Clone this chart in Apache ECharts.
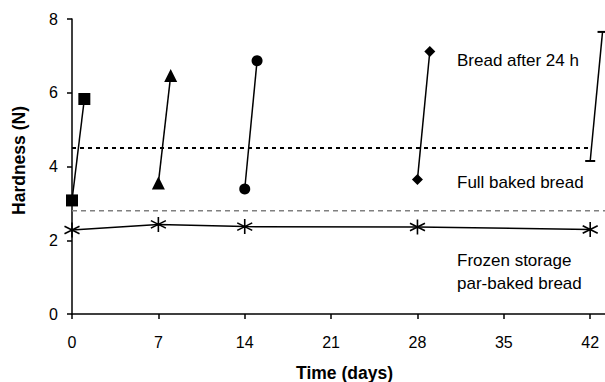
<!DOCTYPE html>
<html>
<head>
<meta charset="utf-8">
<script src="https://cdn.jsdelivr.net/npm/echarts@6/dist/echarts.min.js"></script>
<style>
  html, body { margin: 0; padding: 0; background: #fff; }
  #chart { width: 605px; height: 382px; }
</style>
</head>
<body>
<div id="chart"></div>
<script>
// storage days (par-baked bread taken out of the freezer)
var storageDays = [0, 7, 14, 28, 42];
// hardness of the full baked bread (day of baking) and after 24 h
var hardnessBaked = [3.08, 3.55, 3.39, 3.65, 4.15];
var hardnessAfter24h = [5.83, 6.47, 6.87, 7.12, 7.65];
// frozen storage par-baked bread
var hardnessFrozen = [2.28, 2.43, 2.37, 2.36, 2.29];
// reference levels
var refAfter24h = 4.5;
var refFullBaked = 2.8;
var xTicks = [0, 7, 14, 21, 28, 35, 42];

var pairSymbols = ['rect', 'triangle', 'circle', 'diamond', 'rect'];
var pairSizes = [12, 13, 11, 11, [10, 2]];
var asterisk = 'path://M0,-1L0,1M-0.87,-0.5L0.87,0.5M-0.87,0.5L0.87,-0.5';

var chart = echarts.init(document.getElementById('chart'), null, { renderer: 'svg' });

var series = [];
storageDays.forEach(function(d, i) {
  series.push({
    type: 'line',
    data: [[d, hardnessBaked[i]], [d + 1, hardnessAfter24h[i]]],
    symbol: pairSymbols[i],
    symbolSize: pairSizes[i],
    showAllSymbol: true,
    clip: false,
    lineStyle: { color: '#000', width: 1.5 },
    itemStyle: { color: '#000' },
    z: 5
  });
});

series.push({
  type: 'line',
  data: [[0, refAfter24h], [42, refAfter24h]],
  symbol: 'none',
  lineStyle: { color: '#000', width: 2, type: [4, 4] },
  z: 2
});
series.push({
  type: 'line',
  data: [[0, refFullBaked], [43.2, refFullBaked]],
  symbol: 'none',
  lineStyle: { color: '#808080', width: 1.5, type: [5, 4] },
  z: 2
});
series.push({
  type: 'line',
  data: storageDays.map(function(d, i) { return [d, hardnessFrozen[i]]; }),
  symbol: asterisk,
  symbolSize: 15,
  clip: false,
  lineStyle: { color: '#000', width: 1.5 },
  itemStyle: { color: 'none', borderColor: '#000', borderWidth: 1.6 },
  z: 4
});

var font = 'Liberation Sans, Arial, sans-serif';

chart.setOption({
  animation: false,
  grid: { left: 72, right: 0, top: 19, bottom: 68, outerBoundsMode: 'none', containLabel: false },
  xAxis: {
    type: 'value',
    min: 0,
    max: 43.2,
    name: 'Time (days)',
    nameLocation: 'middle',
    nameGap: 50,
    nameTextStyle: { color: '#000', fontSize: 17.5, fontWeight: 'bold', fontFamily: font, padding: [0, 0, 0, 12] },
    axisLine: { show: true, onZero: false, lineStyle: { color: '#000', width: 1.5 } },
    axisTick: { show: true, length: 5, customValues: xTicks, lineStyle: { color: '#000', width: 1.5 } },
    axisLabel: { customValues: xTicks, color: '#000', fontSize: 16, margin: 20, fontFamily: font },
    splitLine: { show: false }
  },
  yAxis: {
    type: 'value',
    min: 0,
    max: 8,
    interval: 2,
    name: 'Hardness (N)',
    nameLocation: 'middle',
    nameGap: 44,
    nameTextStyle: { color: '#000', fontSize: 17.5, fontWeight: 'bold', fontFamily: font, padding: [0, 0, 0, 12] },
    axisLine: { show: true, lineStyle: { color: '#000', width: 1.5 } },
    axisTick: { show: true, length: 5, lineStyle: { color: '#000', width: 1.5 } },
    axisLabel: { color: '#000', fontSize: 16, margin: 14, fontFamily: font },
    splitLine: { show: false }
  },
  graphic: [
    { type: 'text', left: 457, top: 52, style: { text: 'Bread after 24 h', fill: '#000', font: '17px ' + font } },
    { type: 'text', left: 457, top: 174, style: { text: 'Full baked bread', fill: '#000', font: '17px ' + font } },
    { type: 'text', left: 457, top: 249, style: { text: 'Frozen storage\npar-baked bread', fill: '#000', font: '17px ' + font, lineHeight: 23 } }
  ],
  series: series
});
</script>
</body>
</html>
